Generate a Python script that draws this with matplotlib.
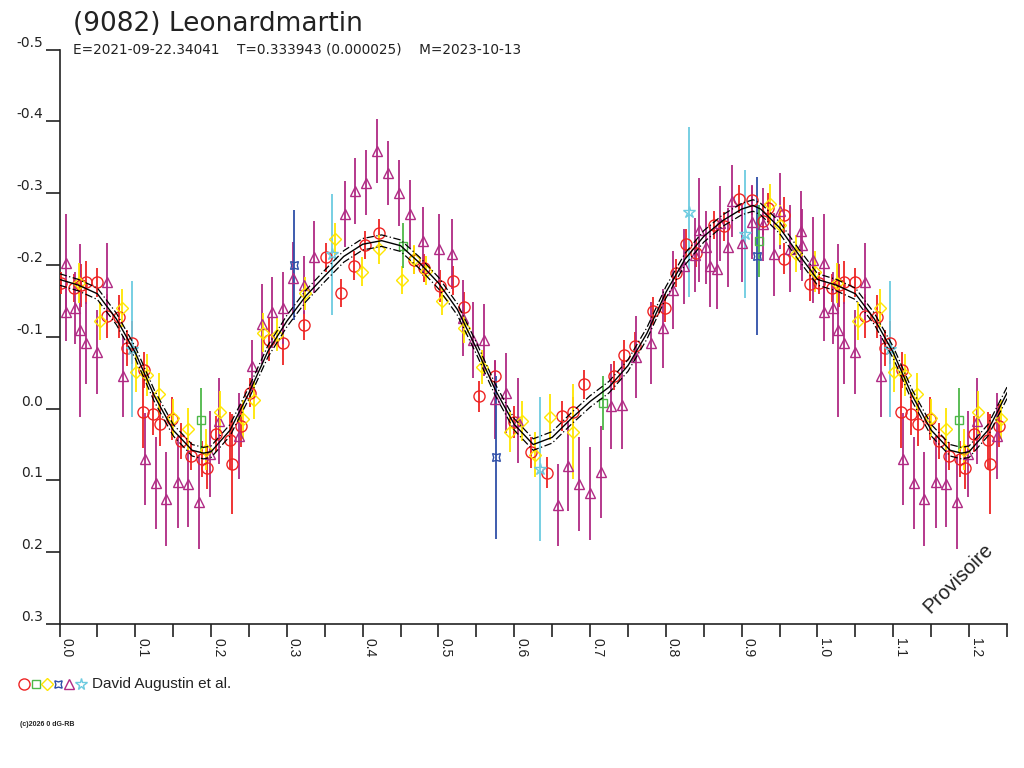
import matplotlib
matplotlib.use("Agg")
import matplotlib.pyplot as plt
from matplotlib.lines import Line2D
import numpy as np

plt.rcParams['font.family'] = ['Liberation Sans', 'DejaVu Sans']

TITLE = "(9082) Leonardmartin"
SUBTITLE = "E=2021-09-22.34041    T=0.333943 (0.000025)    M=2023-10-13"
OBSERVER = "David Augustin et al."
X_TICKS = [0.0, 0.1, 0.2, 0.3, 0.4, 0.5, 0.6, 0.7, 0.8, 0.9, 1.0, 1.1, 1.2]
Y_TICKS = [-0.5, -0.4, -0.3, -0.2, -0.1, 0.0, 0.1, 0.2, 0.3]

# Fourier fit curve (phase, reduced magnitude)
curve_phase = [0.000, 0.025, 0.050, 0.075, 0.100, 0.125, 0.150, 0.175, 0.190, 0.200,
               0.225, 0.250, 0.275, 0.300, 0.325, 0.350, 0.375, 0.400, 0.425, 0.450,
               0.475, 0.500, 0.525, 0.550, 0.575, 0.600, 0.625, 0.650, 0.675, 0.700,
               0.725, 0.750, 0.775, 0.800, 0.825, 0.850, 0.875, 0.900, 0.915, 0.925,
               0.950, 0.975, 1.000]
curve_mag = [-0.180, -0.172, -0.160, -0.125, -0.078, -0.018, 0.030, 0.058, 0.062, 0.060,
             0.030, -0.022, -0.080, -0.122, -0.157, -0.185, -0.212, -0.229, -0.234, -0.227,
             -0.203, -0.175, -0.138, -0.084, -0.026, 0.022, 0.050, 0.040, 0.014, -0.010,
             -0.030, -0.060, -0.105, -0.162, -0.208, -0.240, -0.262, -0.278, -0.283, -0.278,
             -0.252, -0.215, -0.180]
curve_band = 0.008

# Red circles
red_phase = [0.002, 0.019, 0.029, 0.035, 0.049, 0.063, 0.079, 0.089, 0.095, 0.111,
             0.110, 0.123, 0.133, 0.149, 0.160, 0.174, 0.188, 0.194, 0.206, 0.225,
             0.228, 0.240, 0.251, 0.276, 0.295, 0.323, 0.352, 0.372, 0.389, 0.403,
             0.422, 0.468, 0.481, 0.502, 0.519, 0.534, 0.553, 0.574, 0.599, 0.622,
             0.643, 0.663, 0.677, 0.692, 0.731, 0.745, 0.759, 0.783, 0.799, 0.813,
             0.827, 0.840, 0.864, 0.877, 0.896, 0.914, 0.928, 0.935, 0.956, 0.956,
             0.990]
red_mag = [-0.175, -0.168, -0.172, -0.176, -0.176, -0.129, -0.128, -0.084, -0.092, -0.054,
           0.005, 0.007, 0.022, 0.014, 0.045, 0.066, 0.070, 0.082, 0.035, 0.044,
           0.077, 0.024, -0.022, -0.096, -0.091, -0.116, -0.211, -0.161, -0.199, -0.228,
           -0.244, -0.207, -0.196, -0.171, -0.178, -0.142, -0.017, -0.046, 0.019, 0.061,
           0.089, 0.010, 0.004, -0.034, -0.046, -0.075, -0.087, -0.136, -0.140, -0.189,
           -0.230, -0.217, -0.256, -0.254, -0.292, -0.290, -0.262, -0.280, -0.270, -0.209,
           -0.174]
red_err = [0.016, 0.020, 0.030, 0.030, 0.020, 0.030, 0.030, 0.025, 0.030, 0.025,
           0.050, 0.030, 0.030, 0.030, 0.025, 0.020, 0.025, 0.030, 0.025, 0.040,
           0.070, 0.030, 0.020, 0.030, 0.030, 0.020, 0.020, 0.020, 0.020, 0.020,
           0.020, 0.020, 0.020, 0.022, 0.020, 0.020, 0.021, 0.020, 0.022, 0.022,
           0.022, 0.021, 0.020, 0.020, 0.020, 0.020, 0.020, 0.020, 0.020, 0.019,
           0.020, 0.020, 0.020, 0.020, 0.020, 0.020, 0.020, 0.020, 0.025, 0.022,
           0.024]

# Green squares
green_phase = [0.187, 0.453, 0.717, 0.923]
green_mag = [0.016, -0.227, -0.008, -0.233]
green_err = [0.045, 0.031, 0.038, 0.050]

# Yellow diamonds
yellow_phase = [0.026, 0.053, 0.082, 0.101, 0.115, 0.131, 0.150, 0.170, 0.193, 0.212,
                0.242, 0.256, 0.269, 0.287, 0.324, 0.363, 0.399, 0.422, 0.452, 0.468,
                0.484, 0.505, 0.534, 0.558, 0.594, 0.610, 0.627, 0.647, 0.677, 0.937,
                0.951, 0.971, 0.997]
yellow_mag = [-0.175, -0.122, -0.140, -0.051, -0.047, -0.020, 0.013, 0.028, 0.057, 0.005,
              0.015, -0.012, -0.106, -0.103, -0.161, -0.236, -0.191, -0.222, -0.179, -0.208,
              -0.192, -0.150, -0.112, -0.058, 0.033, 0.017, 0.064, 0.012, 0.032, -0.285,
              -0.256, -0.216, -0.191]
yellow_err = [0.028, 0.027, 0.026, 0.028, 0.029, 0.029, 0.026, 0.029, 0.029, 0.030,
              0.027, 0.027, 0.027, 0.023, 0.023, 0.022, 0.020, 0.020, 0.019, 0.020,
              0.020, 0.020, 0.020, 0.023, 0.028, 0.028, 0.031, 0.032, 0.066, 0.028,
              0.028, 0.026, 0.028]

# Blue
blue_phase = [0.309, 0.576, 0.920]
blue_mag = [-0.200, 0.068, -0.213]
blue_err = [0.077, 0.114, 0.110]

# Purple triangles
purple_phase = [0.008, 0.008, 0.020, 0.027, 0.035, 0.049, 0.063, 0.084, 0.113, 0.127,
                0.141, 0.156, 0.170, 0.184, 0.198, 0.211, 0.237, 0.254, 0.267, 0.281,
                0.295, 0.308, 0.323, 0.336, 0.376, 0.390, 0.405, 0.419, 0.434, 0.448,
                0.463, 0.479, 0.501, 0.518, 0.532, 0.546, 0.560, 0.575, 0.589, 0.605,
                0.658, 0.671, 0.685, 0.700, 0.714, 0.728, 0.742, 0.760, 0.781, 0.796,
                0.810, 0.824, 0.838, 0.844, 0.853, 0.858, 0.867, 0.872, 0.882, 0.887,
                0.901, 0.914, 0.928, 0.942, 0.950, 0.964, 0.978, 0.980, 0.994]
purple_mag = [-0.203, -0.134, -0.140, -0.109, -0.092, -0.079, -0.177, -0.045, 0.070, 0.104,
              0.126, 0.102, 0.105, 0.130, 0.063, 0.017, 0.038, -0.060, -0.118, -0.134,
              -0.140, -0.182, -0.172, -0.211, -0.271, -0.303, -0.315, -0.359, -0.328, -0.300,
              -0.271, -0.233, -0.222, -0.215, -0.126, -0.096, -0.096, -0.013, -0.022, 0.017,
              0.134, 0.080, 0.105, 0.118, 0.088, -0.003, -0.005, -0.072, -0.091, -0.112,
              -0.165, -0.198, -0.214, -0.249, -0.225, -0.199, -0.195, -0.258, -0.225, -0.289,
              -0.231, -0.260, -0.257, -0.215, -0.275, -0.223, -0.248, -0.228, -0.207]
purple_err = [0.068, 0.040, 0.050, 0.120, 0.057, 0.058, 0.054, 0.056, 0.064, 0.064,
              0.066, 0.064, 0.060, 0.066, 0.060, 0.060, 0.060, 0.036, 0.056, 0.050,
              0.050, 0.050, 0.040, 0.050, 0.046, 0.046, 0.045, 0.045, 0.045, 0.046,
              0.047, 0.048, 0.049, 0.049, 0.053, 0.053, 0.050, 0.055, 0.056, 0.059,
              0.057, 0.063, 0.065, 0.065, 0.064, 0.059, 0.061, 0.057, 0.057, 0.055,
              0.054, 0.052, 0.052, 0.072, 0.051, 0.057, 0.056, 0.052, 0.055, 0.050,
              0.055, 0.051, 0.051, 0.058, 0.053, 0.060, 0.055, 0.050, 0.060]

# Cyan stars
cyan_phase = [0.095, 0.359, 0.634, 0.830, 0.904]
cyan_mag = [-0.083, -0.215, 0.084, -0.274, -0.243]
cyan_err = [0.095, 0.084, 0.100, 0.118, 0.089]

X_MAX = 1.25

RED = '#ee2424'
GREEN = '#4db848'
YELLOW = '#ffe600'
BLUE = '#2f4fa8'
PURPLE = '#b02a84'
CYAN = '#6ccbe0'
AXC = '#222222'

series = [
    (red_phase, red_mag, red_err, RED, 'o', 8.0),
    (purple_phase, purple_mag, purple_err, PURPLE, '^', 7.0),
    (yellow_phase, yellow_mag, yellow_err, YELLOW, 'D', 6.0),
    (green_phase, green_mag, green_err, GREEN, 's', 6.0),
    (blue_phase, blue_mag, blue_err, BLUE, (4, 1, 45), 8.0),
    (cyan_phase, cyan_mag, cyan_err, CYAN, '*', 9.0),
]


def extend(ph, *cols):
    ph = np.asarray(ph, float)
    sel = ph <= X_MAX - 1.0
    out_ph = np.concatenate([ph, ph[sel] + 1.0])
    outs = [np.concatenate([np.asarray(c, float), np.asarray(c, float)[sel]]) for c in cols]
    return (out_ph, *outs)


fig = plt.figure(figsize=(10.24, 7.68), dpi=100)
ax = fig.add_axes([59.5 / 1024, 1 - 624 / 768, (1007 - 59.5) / 1024, (624 - 49.7) / 768])

# curve (wrapped past phase 1.0 using the same values)
cp = np.asarray(curve_phase)
cm = np.asarray(curve_mag)
sel = (cp > 0) & (cp <= X_MAX - 1.0 + 1e-9)
cp_all = np.concatenate([cp, cp[sel] + 1.0])
cm_all = np.concatenate([cm, cm[sel]])
ax.plot(cp_all, cm_all, color='black', lw=1.0, zorder=5)
ax.plot(cp_all, cm_all - curve_band, color='black', lw=0.9, ls=(0, (6, 2, 1, 2)), zorder=5)
ax.plot(cp_all, cm_all + curve_band, color='black', lw=0.9, ls=(0, (6, 2, 1, 2)), zorder=5)

for ph, mg, er, col, mk, ms in series:
    p, m, e = extend(ph, mg, er)
    ax.errorbar(p, m, yerr=e, fmt='none', ecolor=col, elinewidth=1.3, capsize=0, zorder=3)
    ax.plot(p, m, ls='none', marker=mk, ms=ms, mfc='none', mec=col, mew=1.0, zorder=4)

ax.set_xlim(0, X_MAX)
ax.set_ylim(0.3, -0.5)
for s in ['top', 'right']:
    ax.spines[s].set_visible(False)
for s in ['left', 'bottom']:
    ax.spines[s].set_color(AXC)
    ax.spines[s].set_linewidth(1.2)

ax.set_xticks(X_TICKS)
ax.set_xticklabels([f"{v:.1f}" for v in X_TICKS], rotation=-90, ha='left', va='top')
ax.set_xticks(np.arange(0.05, X_MAX + 0.001, 0.1), minor=True)
ax.tick_params(axis='x', which='both', direction='out', length=9, width=1.2,
               color=AXC, labelcolor=AXC, labelsize=10, pad=1)
ax.set_yticks(Y_TICKS)
ax.set_yticklabels([f"{v:.1f}" if v >= 0 else f"-{abs(v):.1f}" for v in Y_TICKS])
ax.tick_params(axis='y', direction='out', length=10, width=1.2, color=AXC,
               labelcolor=AXC, labelsize=10, pad=2)
for lab in ax.get_yticklabels():
    lab.set_verticalalignment('bottom')
    lab.set_family('DejaVu Sans')

fig.text(73 / 1024, 1 - 30.7 / 768, TITLE, fontsize=19, color=AXC, va='baseline',
         ha='left', family='DejaVu Sans')
fig.text(73 / 1024, 1 - 53.3 / 768, SUBTITLE, fontsize=9.8, color=AXC, va='baseline',
         ha='left', family='DejaVu Sans')

fig.text(958 / 1024, 1 - 578 / 768, "Provisoire", fontsize=14.5, color=AXC,
         rotation=45, ha='center', va='center')

# legend row
leg_y = 1 - 684 / 768
legend_items = [(RED, 'o', 8.0, 24), (GREEN, 's', 6.0, 36), (YELLOW, 'D', 6.0, 47),
                (BLUE, (4, 1, 45), 7.5, 58), (PURPLE, '^', 7.0, 69), (CYAN, '*', 8.5, 81)]
for col, mk, ms, xp in legend_items:
    fig.add_artist(Line2D([xp / 1024], [leg_y], transform=fig.transFigure, ls='none',
                          marker=mk, ms=ms, mfc='none', mec=col, mew=1.0))
fig.text(92 / 1024, leg_y, OBSERVER, fontsize=11, color=AXC, va='center', ha='left')

fig.text(20 / 1024, 1 - 725 / 768, "(c)2026 0 dG-RB", fontsize=5, color=AXC,
         fontweight='bold', va='center', ha='left')

fig.savefig("out.png", dpi=100, facecolor='white')
